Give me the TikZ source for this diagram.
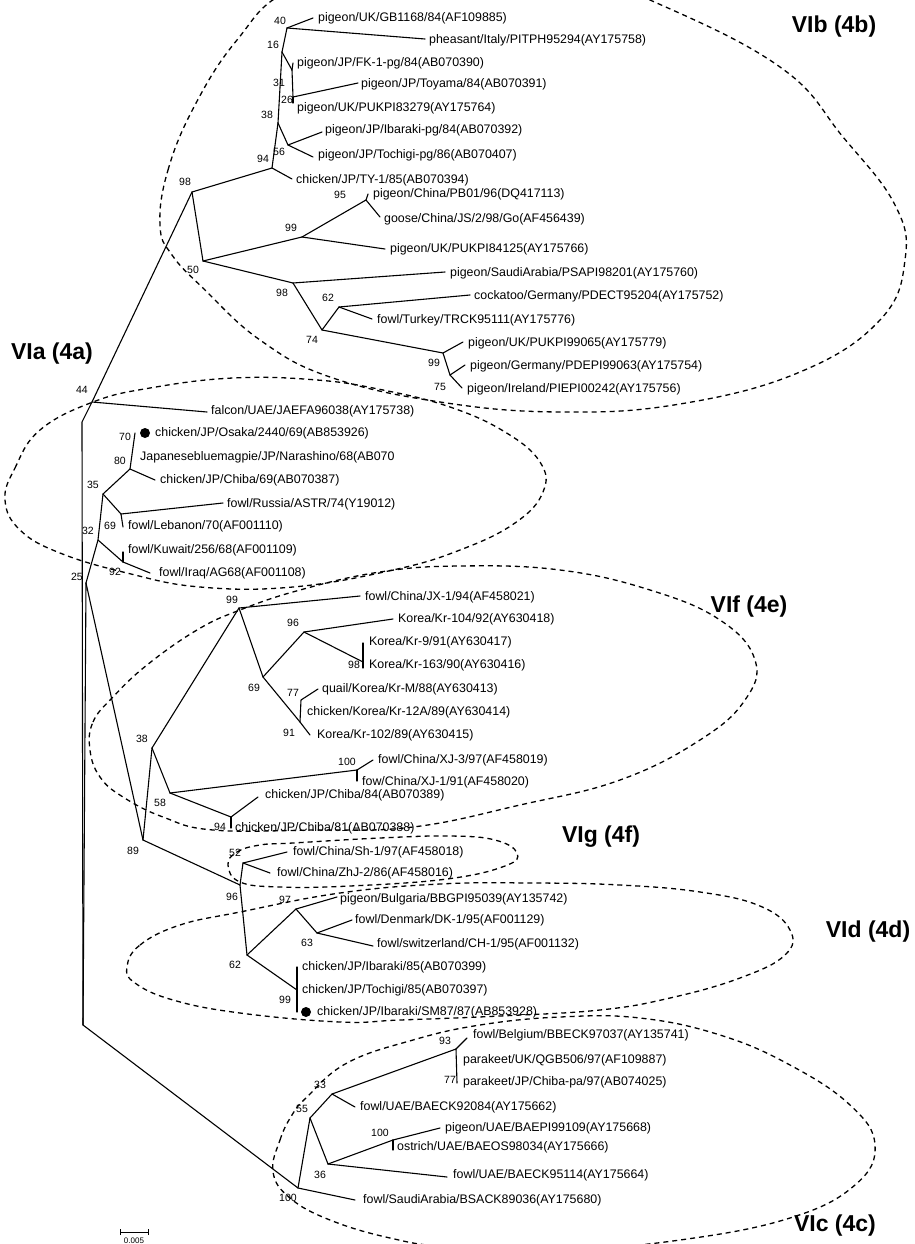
\documentclass[tikz,border=0pt]{standalone}
\usepackage{fontspec}
\setmainfont{Liberation Sans}
\begin{document}
\begin{tikzpicture}[x=1pt,y=-1pt,
  br/.style={line width=1.1pt, line join=round, line cap=round},
  lf/.style={anchor=west, inner sep=0pt, font=\fontsize{12.4}{14}\selectfont},
  bs/.style={inner sep=0pt, font=\fontsize{10.5}{12}\selectfont},
  cl/.style={inner sep=0pt, font=\fontsize{23}{26}\selectfont\bfseries},
  grp/.style={line width=1.3pt, dash pattern=on 5pt off 4pt},
  dotmark/.style={circle, fill=black, inner sep=0pt, minimum size=10pt}]
\useasboundingbox (0,0) rectangle (914,1244);

% ---------------- group outlines
\draw[grp] plot[smooth cycle, tension=0.7] coordinates {(160,225) (168,170) (195,105) (237,40) (290,-10) (400,-40) (540,-40) (650,0) (780,67) (843,137) (895,205) (905,260) (880,320) (800,372) (680,404) (560,412) (440,402) (330,377) (260,340) (205,290) (172,255)};
\draw[grp] plot[smooth cycle, tension=0.7] coordinates {(5,500) (15,468) (40,430) (93,402) (150,388) (233,378) (317,380) (383,390) (450,407) (505,432) (540,462) (543,492) (515,523) (460,550) (393,570) (293,587) (200,587) (127,573) (60,553) (20,530)};
\draw[grp] plot[smooth cycle, tension=0.7] coordinates {(90,750) (93,722) (113,697) (147,665) (197,630) (240,610) (300,590) (380,572) (460,566) (560,570) (650,590) (720,620) (755,660) (745,700) (700,740) (620,780) (520,805) (413,827) (313,830) (213,830) (163,817) (123,797) (100,777)};
\draw[grp] plot[smooth cycle, tension=0.7] coordinates {(228,865) (237,852) (260,845) (293,843) (380,838) (450,836) (495,840) (517,853) (505,866) (447,879) (350,886) (280,887) (240,882)};
\draw[grp] plot[smooth cycle, tension=0.7] coordinates {(127,967) (140,945) (180,925) (240,912) (340,893) (440,884) (533,883) (620,885) (700,892) (760,906) (790,930) (785,955) (740,978) (670,998) (600,1010) (500,1016) (400,1020) (340,1022) (240,1013) (173,1000) (135,983)};
\draw[grp] plot[smooth cycle, tension=0.7] coordinates {(273,1172) (280,1140) (292,1115) (307,1097) (347,1063) (413,1040) (480,1025) (560,1017) (640,1018) (720,1035) (790,1065) (850,1105) (875,1145) (855,1185) (790,1218) (680,1240) (560,1250) (450,1247) (390,1238) (330,1220) (290,1198)};

% ---------------- internal nodes
\coordinate (n44) at (92,402);
\coordinate (k1) at (82,422);
\coordinate (rt) at (83,1025);
\coordinate (n98a) at (192,192);
\coordinate (n94a) at (272,168);
\coordinate (n38a) at (278,123);
\coordinate (n16) at (282,52);
\coordinate (n40) at (287,28);
\coordinate (n31) at (292,70);
\coordinate (n26) at (293,97);
\coordinate (n56) at (288,145);
\coordinate (n50) at (203,261);
\coordinate (n99a) at (302,237);
\coordinate (n95) at (366,200);
\coordinate (n98b) at (293,283);
\coordinate (n74) at (322,330);
\coordinate (n62a) at (339,307);
\coordinate (n99b) at (443,353);
\coordinate (n75) at (450,375);
\coordinate (n25) at (86,583);
\coordinate (n32) at (98,540);
\coordinate (n35) at (103,494);
\coordinate (n69a) at (121,514);
\coordinate (n80) at (130,469);
\coordinate (n92) at (123,562);
\coordinate (n89) at (143,840);
\coordinate (n38b) at (152,748);
\coordinate (n99c) at (239,608);
\coordinate (n69b) at (263,677);
\coordinate (n96b) at (304,632);
\coordinate (n98c) at (363,662);
\coordinate (n91) at (300,722);
\coordinate (n77b) at (301,700);
\coordinate (n58) at (170,793);
\coordinate (n100a) at (357,770);
\coordinate (n94b) at (231,817);
\coordinate (n96c) at (240,885);
\coordinate (n52) at (243,863);
\coordinate (n62b) at (247,955);
\coordinate (n97) at (296,909);
\coordinate (n63) at (317,933);
\coordinate (n99d) at (297,990);
\coordinate (n100b) at (298,1188);
\coordinate (n55) at (310,1118);
\coordinate (n33) at (332,1094);
\coordinate (n93) at (456,1049);
\coordinate (n36) at (328,1164);
\coordinate (n100c) at (393,1140);

% ---------------- tips
\coordinate (t1) at (313,18);
\coordinate (t2) at (425,39);
\coordinate (t3) at (293,63);
\coordinate (t4) at (358,83);
\coordinate (t5) at (293,103);
\coordinate (t6) at (322,132);
\coordinate (t7) at (313,157);
\coordinate (t8) at (292,179);
\coordinate (t9) at (368,194);
\coordinate (t10) at (380,217);
\coordinate (t11) at (385,249);
\coordinate (t12) at (445,272);
\coordinate (t13) at (470,295);
\coordinate (t14) at (372,319);
\coordinate (t15) at (463,342);
\coordinate (t16) at (465,365);
\coordinate (t17) at (462,388);
\coordinate (t18) at (207,412);
\coordinate (t19) at (135,433);
\coordinate (t20) at (155,480);
\coordinate (t21) at (223,503);
\coordinate (t22) at (123,527);
\coordinate (t23) at (123,552);
\coordinate (t24) at (150,573);
\coordinate (t25) at (360,596);
\coordinate (t26) at (393,619);
\coordinate (t27) at (363,643);
\coordinate (t28) at (363,668);
\coordinate (t29) at (318,689);
\coordinate (t31) at (310,735);
\coordinate (t32) at (373,760);
\coordinate (t33) at (357,781);
\coordinate (t34) at (258,797);
\coordinate (t35) at (231,828);
\coordinate (t36) at (287,852);
\coordinate (t37) at (270,873);
\coordinate (t38) at (337,897);
\coordinate (t39) at (352,920);
\coordinate (t40) at (373,946);
\coordinate (t41) at (297,967);
\coordinate (t42) at (297,1012);
\coordinate (t43) at (467,1038);
\coordinate (t44) at (457,1083);
\coordinate (t45) at (440,1128);
\coordinate (t46) at (393,1150);
\coordinate (t47) at (447,1177);
\coordinate (t48) at (355,1200);
\coordinate (t49) at (355,1107);

% ---------------- branches
\draw[br] (n44) -- (k1) -- (rt) -- (n100b);
\draw[br] (n25) -- (rt);
\draw[br] (n44) -- (n98a);
\draw[br] (n44) -- (t18);
% VIb
\draw[br] (n98a) -- (n94a); \draw[br] (n98a) -- (n50);
\draw[br] (n94a) -- (t8); \draw[br] (n94a) -- (n38a);
\draw[br] (n38a) -- (n16); \draw[br] (n38a) -- (n56);
\draw[br] (n16) -- (n40); \draw[br] (n16) -- (n31);
\draw[br] (n40) -- (t1); \draw[br] (n40) -- (t2);
\draw[br] (n31) -- (t3); \draw[br] (n31) -- (n26);
\draw[br] (n26) -- (t4); \draw[br] (n26) -- (t5);
\draw[br] (n56) -- (t6); \draw[br] (n56) -- (t7);
\draw[br] (n50) -- (n99a); \draw[br] (n50) -- (n98b);
\draw[br] (n99a) -- (n95); \draw[br] (n99a) -- (t11);
\draw[br] (n95) -- (t9); \draw[br] (n95) -- (t10);
\draw[br] (n98b) -- (t12); \draw[br] (n98b) -- (n74);
\draw[br] (n74) -- (n62a); \draw[br] (n74) -- (n99b);
\draw[br] (n62a) -- (t13); \draw[br] (n62a) -- (t14);
\draw[br] (n99b) -- (t15); \draw[br] (n99b) -- (n75);
\draw[br] (n75) -- (t16); \draw[br] (n75) -- (t17);
% VIa
\draw[br] (n25) -- (n32) -- (n35);
\draw[br] (n32) -- (n92);
\draw[br] (n92) -- (t23); \draw[br] (n92) -- (t24);
\draw[br] (n35) -- (n80); \draw[br] (n35) -- (n69a);
\draw[br] (n80) -- (t19); \draw[br] (n80) -- (t20);
\draw[br] (n69a) -- (t21); \draw[br] (n69a) -- (t22);
% VIf, VIg, VId
\draw[br] (n25) -- (n89);
\draw[br] (n89) -- (n38b); \draw[br] (n89) -- (n96c);
\draw[br] (n38b) -- (n99c); \draw[br] (n38b) -- (n58);
\draw[br] (n99c) -- (t25); \draw[br] (n99c) -- (n69b);
\draw[br] (n69b) -- (n96b); \draw[br] (n69b) -- (n91) -- (t31);
\draw[br] (n91) -- (n77b) -- (t29);
\draw[br] (n96b) -- (t26); \draw[br] (n96b) -- (n98c);
\draw[br] (t27) -- (t28);
\draw[br] (n58) -- (n100a); \draw[br] (n58) -- (n94b);
\draw[br] (n100a) -- (t32); \draw[br] (n100a) -- (t33);
\draw[br] (n94b) -- (t34); \draw[br] (n94b) -- (t35);
\draw[br] (n96c) -- (n52); \draw[br] (n96c) -- (n62b);
\draw[br] (n52) -- (t36); \draw[br] (n52) -- (t37);
\draw[br] (n62b) -- (n97); \draw[br] (n62b) -- (n99d);
\draw[br] (n97) -- (t38); \draw[br] (n97) -- (n63);
\draw[br] (n63) -- (t39); \draw[br] (n63) -- (t40);
\draw[br] (t41) -- (t42);
% VIc
\draw[br] (n100b) -- (t48); \draw[br] (n100b) -- (n55);
\draw[br] (n55) -- (n33); \draw[br] (n55) -- (n36);
\draw[br] (n33) -- (t49); \draw[br] (n33) -- (n93);
\draw[br] (n93) -- (t43); \draw[br] (n93) -- (t44);
\draw[br] (n36) -- (n100c); \draw[br] (n36) -- (t47);
\draw[br] (n100c) -- (t45); \draw[br] (n100c) -- (t46);

% ---------------- leaf labels
\node[lf] (L1) at (318,18) {pigeon/UK/GB1168/84(AF109885)};
\node[lf] (L2) at (429,40) {pheasant/Italy/PITPH95294(AY175758)};
\node[lf] (L3) at (297,63) {pigeon/JP/FK-1-pg/84(AB070390)};
\node[lf] (L4) at (361,84) {pigeon/JP/Toyama/84(AB070391)};
\node[lf] (L5) at (297,108) {pigeon/UK/PUKPI83279(AY175764)};
\node[lf] (L6) at (325,130) {pigeon/JP/Ibaraki-pg/84(AB070392)};
\node[lf] (L7) at (318,155) {pigeon/JP/Tochigi-pg/86(AB070407)};
\node[lf] (L8) at (296,180) {chicken/JP/TY-1/85(AB070394)};
\node[lf] (L9) at (373,194) {pigeon/China/PB01/96(DQ417113)};
\node[lf] (L10) at (384,219) {goose/China/JS/2/98/Go(AF456439)};
\node[lf] (L11) at (390,249) {pigeon/UK/PUKPI84125(AY175766)};
\node[lf] (L12) at (450,273) {pigeon/SaudiArabia/PSAPI98201(AY175760)};
\node[lf] (L13) at (474,296) {cockatoo/Germany/PDECT95204(AY175752)};
\node[lf] (L14) at (377,320) {fowl/Turkey/TRCK95111(AY175776)};
\node[lf] (L15) at (468,343) {pigeon/UK/PUKPI99065(AY175779)};
\node[lf] (L16) at (470,366) {pigeon/Germany/PDEPI99063(AY175754)};
\node[lf] (L17) at (467,389) {pigeon/Ireland/PIEPI00242(AY175756)};
\node[lf] (L18) at (211,411) {falcon/UAE/JAEFA96038(AY175738)};
\node[dotmark] (D1) at (145,433) {};
\node[lf] (L19) at (155,433) {chicken/JP/Osaka/2440/69(AB853926)};
\node[lf] (L19b) at (140,457) {Japanesebluemagpie/JP/Narashino/68(AB070};
\node[lf] (L20) at (160,480) {chicken/JP/Chiba/69(AB070387)};
\node[lf] (L21) at (227,504) {fowl/Russia/ASTR/74(Y19012)};
\node[lf] (L22) at (128,526) {fowl/Lebanon/70(AF001110)};
\node[lf] (L23) at (128,550) {fowl/Kuwait/256/68(AF001109)};
\node[lf] (L24) at (159,573) {fowl/Iraq/AG68(AF001108)};
\node[lf] (L25) at (365,597) {fowl/China/JX-1/94(AF458021)};
\node[lf] (L26) at (398,619) {Korea/Kr-104/92(AY630418)};
\node[lf] (L27) at (369,642) {Korea/Kr-9/91(AY630417)};
\node[lf] (L28) at (369,665) {Korea/Kr-163/90(AY630416)};
\node[lf] (L29) at (322,689) {quail/Korea/Kr-M/88(AY630413)};
\node[lf] (L30) at (307,712) {chicken/Korea/Kr-12A/89(AY630414)};
\node[lf] (L31) at (317,735) {Korea/Kr-102/89(AY630415)};
\node[lf] (L32) at (378,760) {fowl/China/XJ-3/97(AF458019)};
\node[lf] (L33) at (362,782) {fow/China/XJ-1/91(AF458020)};
\node[lf] (L34) at (265,795) {chicken/JP/Chiba/84(AB070389)};
\node[lf] (L35) at (235,828) {chicken/JP/Chiba/81(AB070388)};
\node[lf] (L36) at (293,852) {fowl/China/Sh-1/97(AF458018)};
\node[lf] (L37) at (277,873) {fowl/China/ZhJ-2/86(AF458016)};
\node[lf] (L38) at (340,899) {pigeon/Bulgaria/BBGPI95039(AY135742)};
\node[lf] (L39) at (355,920) {fowl/Denmark/DK-1/95(AF001129)};
\node[lf] (L40) at (377,944) {fowl/switzerland/CH-1/95(AF001132)};
\node[lf] (L41) at (302,967) {chicken/JP/Ibaraki/85(AB070399)};
\node[lf] (L41b) at (302,990) {chicken/JP/Tochigi/85(AB070397)};
\node[dotmark] (D2) at (306,1012) {};
\node[lf] (L42) at (317,1012) {chicken/JP/Ibaraki/SM87/87(AB853928)};
\node[lf] (L43) at (473,1035) {fowl/Belgium/BBECK97037(AY135741)};
\node[lf] (L43b) at (463,1060) {parakeet/UK/QGB506/97(AF109887)};
\node[lf] (L44) at (463,1082) {parakeet/JP/Chiba-pa/97(AB074025)};
\node[lf] (L49) at (360,1107) {fowl/UAE/BAECK92084(AY175662)};
\node[lf] (L45) at (445,1128) {pigeon/UAE/BAEPI99109(AY175668)};
\node[lf] (L46) at (397,1147) {ostrich/UAE/BAEOS98034(AY175666)};
\node[lf] (L47) at (453,1175) {fowl/UAE/BAECK95114(AY175664)};
\node[lf] (L48) at (363,1200) {fowl/SaudiArabia/BSACK89036(AY175680)};

% ---------------- bootstrap values
\node[bs] (b1) at (280,21) {40};
\node[bs] (b2) at (273,45) {16};
\node[bs] (b3) at (279,83) {31};
\node[bs] (b4) at (287,100) {26};
\node[bs] (b5) at (267,115) {38};
\node[bs] (b6) at (279,152) {56};
\node[bs] (b7) at (263,159) {94};
\node[bs] (b8) at (185,182) {98};
\node[bs] (b9) at (340,195) {95};
\node[bs] (b10) at (291,228) {99};
\node[bs] (b11) at (193,270) {50};
\node[bs] (b12) at (282,293) {98};
\node[bs] (b13) at (328,298) {62};
\node[bs] (b14) at (312,340) {74};
\node[bs] (b15) at (434,363) {99};
\node[bs] (b16) at (440,387) {75};
\node[bs] (b17) at (82,390) {44};
\node[bs] (b18) at (125,437) {70};
\node[bs] (b19) at (120,461) {80};
\node[bs] (b20) at (93,485) {35};
\node[bs] (b21) at (110,526) {69};
\node[bs] (b22) at (88,531) {32};
\node[bs] (b23) at (115,572) {92};
\node[bs] (b24) at (77,577) {25};
\node[bs] (b25) at (232,600) {99};
\node[bs] (b26) at (293,623) {96};
\node[bs] (b27) at (354,665) {98};
\node[bs] (b28) at (254,688) {69};
\node[bs] (b29) at (293,693) {77};
\node[bs] (b30) at (289,733) {91};
\node[bs] (b31) at (142,739) {38};
\node[bs] (b32) at (347,762) {100};
\node[bs] (b33) at (160,803) {58};
\node[bs] (b34) at (220,827) {94};
\node[bs] (b35) at (133,851) {89};
\node[bs] (b36) at (235,853) {52};
\node[bs] (b37) at (232,897) {96};
\node[bs] (b38) at (285,900) {97};
\node[bs] (b39) at (307,943) {63};
\node[bs] (b40) at (235,965) {62};
\node[bs] (b41) at (285,1000) {99};
\node[bs] (b42) at (445,1041) {93};
\node[bs] (b43) at (450,1080) {77};
\node[bs] (b44) at (320,1085) {33};
\node[bs] (b45) at (302,1109) {55};
\node[bs] (b46) at (380,1133) {100};
\node[bs] (b47) at (320,1175) {36};
\node[bs] (b48) at (288,1198) {100};

% ---------------- group labels
\node[cl] (G1) at (834,27) {VIb (4b)};
\node[cl] (G2) at (52,354) {VIa (4a)};
\node[cl] (G3) at (749,607) {VIf (4e)};
\node[cl] (G4) at (601,837) {VIg (4f)};
\node[cl] (G5) at (868,932) {VId (4d)};
\node[cl] (G6) at (835,1226) {VIc (4c)};

% ---------------- scale bar
\coordinate (s1) at (120,1232);
\coordinate (s2) at (148,1232);
\draw[line width=0.9pt] (s1) -- (s2);
\draw[line width=0.9pt] ([yshift=-3pt]s1) -- ([yshift=3pt]s1);
\draw[line width=0.9pt] ([yshift=-3pt]s2) -- ([yshift=3pt]s2);
\node[inner sep=0pt, font=\fontsize{8}{9}\selectfont] (sl) at (134,1241) {0.005};
\end{tikzpicture}
\end{document}
